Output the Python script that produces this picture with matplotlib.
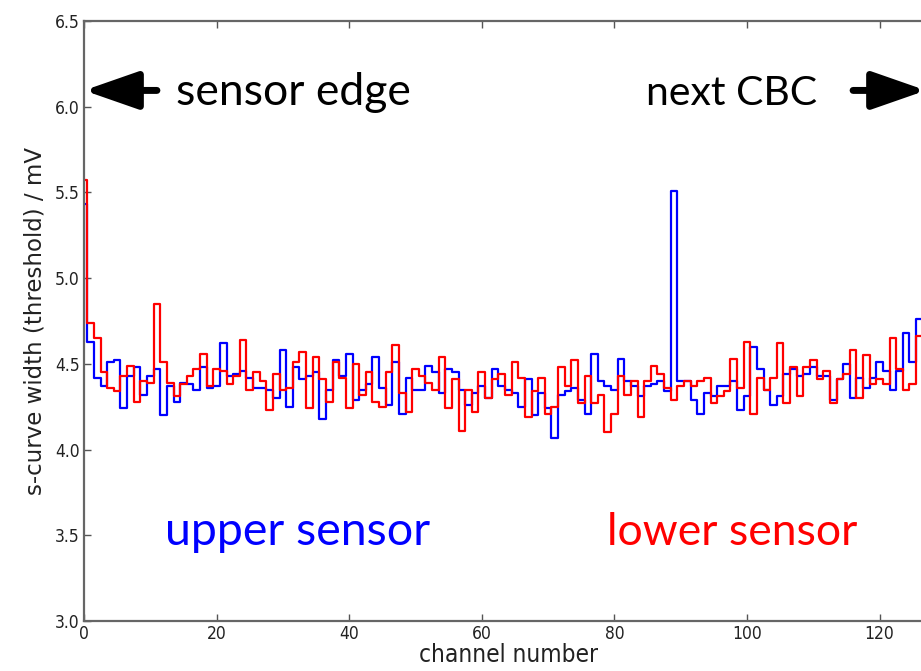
import numpy as np
import matplotlib
matplotlib.use("Agg")
import matplotlib.pyplot as plt
from matplotlib import font_manager

channels = list(range(128))

upper_sensor = [
    5.43, 4.63, 4.42, 4.37, 4.51, 4.52, 4.24, 4.43, 4.48, 4.32,
    4.43, 4.47, 4.20, 4.37, 4.28, 4.39, 4.38, 4.35, 4.48, 4.36,
    4.37, 4.62, 4.43, 4.44, 4.46, 4.42, 4.36, 4.36, 4.35, 4.30,
    4.58, 4.25, 4.48, 4.41, 4.43, 4.45, 4.18, 4.35, 4.52, 4.43,
    4.56, 4.29, 4.35, 4.38, 4.54, 4.36, 4.26, 4.51, 4.21, 4.42,
    4.35, 4.35, 4.49, 4.45, 4.33, 4.47, 4.45, 4.35, 4.26, 4.33,
    4.37, 4.30, 4.47, 4.37, 4.35, 4.33, 4.25, 4.41, 4.20, 4.33,
    4.24, 4.07, 4.32, 4.34, 4.36, 4.29, 4.21, 4.56, 4.40, 4.37,
    4.35, 4.53, 4.40, 4.37, 4.31, 4.37, 4.38, 4.40, 4.34, 5.51,
    4.40, 4.40, 4.29, 4.21, 4.33, 4.31, 4.37, 4.37, 4.40, 4.23,
    4.31, 4.60, 4.47, 4.35, 4.26, 4.31, 4.44, 4.47, 4.43, 4.44,
    4.48, 4.43, 4.43, 4.29, 4.41, 4.50, 4.30, 4.42, 4.36, 4.42,
    4.51, 4.46, 4.35, 4.46, 4.68, 4.51, 4.76, 4.70,
]

lower_sensor = [
    5.57, 4.74, 4.65, 4.45, 4.36, 4.34, 4.43, 4.49, 4.28, 4.40,
    4.39, 4.85, 4.51, 4.39, 4.31, 4.38, 4.43, 4.47, 4.56, 4.37,
    4.47, 4.46, 4.38, 4.43, 4.64, 4.35, 4.45, 4.40, 4.23, 4.44,
    4.35, 4.36, 4.51, 4.57, 4.24, 4.54, 4.41, 4.28, 4.51, 4.42,
    4.24, 4.50, 4.32, 4.45, 4.28, 4.25, 4.45, 4.61, 4.33, 4.22,
    4.47, 4.43, 4.39, 4.35, 4.54, 4.24, 4.41, 4.11, 4.35, 4.22,
    4.45, 4.30, 4.41, 4.44, 4.32, 4.51, 4.42, 4.19, 4.34, 4.42,
    4.21, 4.25, 4.48, 4.37, 4.52, 4.27, 4.43, 4.27, 4.32, 4.10,
    4.21, 4.43, 4.32, 4.40, 4.19, 4.40, 4.49, 4.44, 4.36, 4.29,
    4.37, 4.40, 4.37, 4.40, 4.42, 4.27, 4.31, 4.34, 4.53, 4.36,
    4.63, 4.21, 4.42, 4.35, 4.42, 4.62, 4.27, 4.48, 4.31, 4.48,
    4.52, 4.41, 4.46, 4.27, 4.41, 4.44, 4.58, 4.30, 4.55, 4.38,
    4.41, 4.38, 4.65, 4.47, 4.35, 4.38, 4.66, 4.60,
]

x_ticks = [0, 20, 40, 60, 80, 100, 120]
y_ticks = [3.0, 3.5, 4.0, 4.5, 5.0, 5.5, 6.0, 6.5]

W, H = 921, 671
fig = plt.figure(figsize=(W / 100, H / 100), dpi=100)
fig.patch.set_facecolor("white")

left_px, right_px, top_px, bot_px = 84, 84 + 128 * 6.63, 21, 621
ax = fig.add_axes([left_px / W, (H - bot_px) / H,
                   (right_px - left_px) / W, (bot_px - top_px) / H])

ax.plot(channels, upper_sensor, drawstyle="steps-mid", color="#0000ff", lw=1.6)
ax.plot(channels, lower_sensor, drawstyle="steps-mid", color="#ff0000", lw=1.6)

ax.set_xlim(0, 128)
ax.set_ylim(3.0, 6.5)
ax.set_xticks(x_ticks)
ax.set_yticks(y_ticks)
ax.set_yticklabels([f"{v:.1f}" for v in y_ticks])

tick_font = dict(family="DejaVu Sans", stretch="condensed", size=12.5)
for lab in ax.get_xticklabels() + ax.get_yticklabels():
    lab.set_fontproperties(font_manager.FontProperties(**tick_font))
    lab.set_color("#222222")

ax.tick_params(direction="in", length=5, width=1, color="#555555",
               top=True, right=True, pad=3)
for sp in ax.spines.values():
    sp.set_color("#666666")
    sp.set_linewidth(1.6)

ax.set_xlabel("channel number", fontproperties=font_manager.FontProperties(
    family="DejaVu Sans", stretch="condensed", size=17.5), color="#222222", labelpad=0)
ax.set_ylabel("s-curve width (threshold) / mV", fontsize=16.5, color="#222222", labelpad=6)

# annotations
txt_font = "Lato"
ax.text(13.9, 6.01, "sensor edge", fontsize=32, family=txt_font, color="black", va="baseline")
ax.text(84.8, 6.01, "next CBC", fontsize=29.5, family=txt_font, color="black", va="baseline")
ax.text(12.2, 3.445, "upper sensor", fontsize=33.5, family=txt_font, color="#0000ff", va="baseline")
ax.text(78.9, 3.445, "lower sensor", fontsize=32, family=txt_font, color="#ff0000", va="baseline")

arrow_kw = dict(arrowstyle="-|>,head_length=3.3,head_width=1.15", lw=5.0,
                color="black", mutation_scale=10, shrinkA=0, shrinkB=0)
ax.annotate("", xy=(0.0, 6.095), xytext=(11.0, 6.095), arrowprops=arrow_kw,
            annotation_clip=False)
ax.annotate("", xy=(127.0, 6.095), xytext=(116.0, 6.095), arrowprops=arrow_kw,
            annotation_clip=False)

fig.savefig("out.png", dpi=100, facecolor="white")
